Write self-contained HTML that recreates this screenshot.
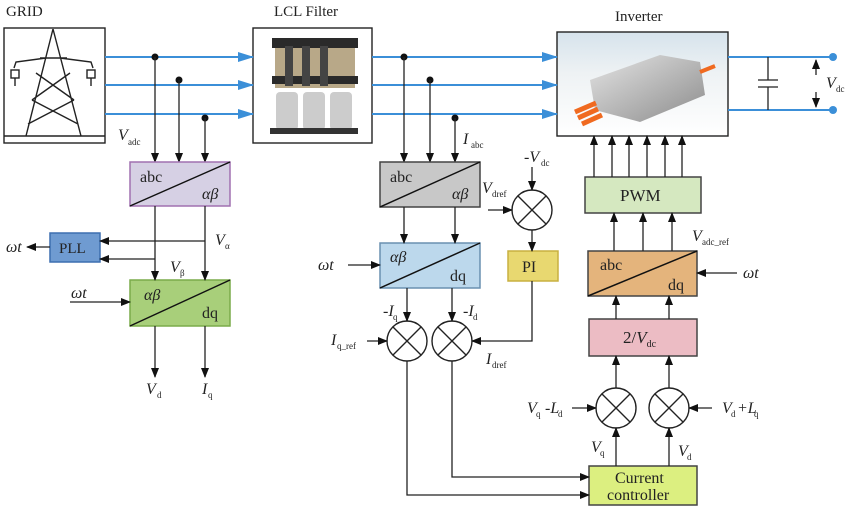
<!DOCTYPE html>
<html><head><meta charset="utf-8"><style>
html,body{margin:0;padding:0;background:#fff;}
svg{display:block;font-family:"Liberation Serif",serif;}
</style></head><body>
<svg width="851" height="506" viewBox="0 0 851 506" xmlns="http://www.w3.org/2000/svg">
<defs>
<marker id="a" markerWidth="10" markerHeight="8" refX="9" refY="4" orient="auto" markerUnits="userSpaceOnUse"><path d="M0,0 L10,4 L0,8 Z" fill="#111"/></marker>
<marker id="b" markerWidth="16" markerHeight="10" refX="15" refY="5" orient="auto" markerUnits="userSpaceOnUse"><path d="M0,0 L16,5 L0,10 Z" fill="#3b8fd8"/></marker>
<linearGradient id="ig" x1="0" y1="0" x2="0" y2="1"><stop offset="0" stop-color="#d6e3ec"/><stop offset="0.4" stop-color="#eef2f4"/><stop offset="1" stop-color="#fff"/></linearGradient>
<linearGradient id="box" x1="0" y1="0" x2="1" y2="1"><stop offset="0" stop-color="#e4e4e4"/><stop offset="1" stop-color="#8c8c8c"/></linearGradient>
</defs>
<g stroke="#222" stroke-width="1.4" fill="none">
<rect x="4" y="28" width="101" height="115" fill="#fff"/>
<line x1="4" y1="136" x2="105" y2="136"/>
<path d="M53,29 L26,136 M53,29 L81,136 M46,58 L16,62 L14,68 M60,58 L91,62 L93,68 M40,58 L67,58 M36,73 L74,100 M70,73 L32,100 M32,100 L78,124 M74,100 L28,124"/>
<rect x="11" y="70" width="8" height="8"/><rect x="87" y="70" width="8" height="8"/>
<path d="M15,78 V86 M91,78 V86"/>
<rect x="253" y="28" width="119" height="115" fill="#fff"/>
<rect x="557" y="32" width="171" height="104" fill="url(#ig)"/>
</g>
<g stroke="none">
<rect x="272" y="38" width="86" height="10" fill="#2a2a2a"/>
<rect x="275" y="48" width="80" height="40" fill="#b8a888"/>
<rect x="272" y="76" width="86" height="8" fill="#2a2a2a"/>
<rect x="285" y="46" width="8" height="40" fill="#444"/><rect x="302" y="46" width="8" height="40" fill="#444"/><rect x="320" y="46" width="8" height="40" fill="#444"/>
<rect x="276" y="92" width="22" height="38" fill="#ccc" rx="4"/><rect x="303" y="92" width="22" height="38" fill="#ccc" rx="4"/><rect x="330" y="92" width="22" height="38" fill="#ccc" rx="4"/>
<rect x="270" y="128" width="88" height="6" fill="#333"/>
<path d="M590,80 L660,55 L700,62 L705,95 L640,122 L595,110 Z" fill="url(#box)"/>
<path d="M575,112 L596,103 M578,118 L598,109 M582,124 L602,115" stroke="#f06a20" stroke-width="5"/>
<path d="M700,72 L715,66" stroke="#f06a20" stroke-width="4"/>
</g>
<g stroke="#3b8fd8" stroke-width="2" fill="none">
<line x1="105" y1="57" x2="253" y2="57" marker-end="url(#b)"/>
<line x1="105" y1="85" x2="253" y2="85" marker-end="url(#b)"/>
<line x1="105" y1="114" x2="253" y2="114" marker-end="url(#b)"/>
<line x1="372" y1="57" x2="557" y2="57" marker-end="url(#b)"/>
<line x1="372" y1="85" x2="557" y2="85" marker-end="url(#b)"/>
<line x1="372" y1="114" x2="557" y2="114" marker-end="url(#b)"/>
<line x1="728" y1="57" x2="833" y2="57"/>
<line x1="728" y1="110" x2="833" y2="110"/>
</g>
<g fill="#3b8fd8"><circle cx="833" cy="57" r="4"/><circle cx="833" cy="110" r="4"/></g>
<g stroke="#222" stroke-width="1.3" fill="none">
<path d="M768,57 V80 M768,87 V110 M758,80 H778 M758,87 H778"/>
<line x1="816" y1="75" x2="816" y2="60" marker-end="url(#a)"/>
<line x1="816" y1="92" x2="816" y2="107" marker-end="url(#a)"/>
</g>
<g fill="#111"><circle cx="155" cy="57" r="3.5"/><circle cx="179" cy="80" r="3.5"/><circle cx="205" cy="118" r="3.5"/>
<circle cx="404" cy="57" r="3.5"/><circle cx="430" cy="80" r="3.5"/><circle cx="455" cy="118" r="3.5"/></g>
<g stroke="#222" stroke-width="1.3" fill="none" marker-end="url(#a)">
<line x1="155" y1="57" x2="155" y2="162"/><line x1="179" y1="80" x2="179" y2="162"/><line x1="205" y1="118" x2="205" y2="162"/>
<line x1="404" y1="57" x2="404" y2="162"/><line x1="430" y1="80" x2="430" y2="162"/><line x1="455" y1="118" x2="455" y2="162"/>
</g>
<g stroke-width="1.5">
<rect x="130" y="162" width="100" height="44" fill="#d6d0e4" stroke="#a070b0"/>
<rect x="130" y="280" width="100" height="46" fill="#a8cf7a" stroke="#7aab4a"/>
<rect x="50" y="233" width="50" height="29" fill="#6f9bd1" stroke="#3d6fb0"/>
<rect x="380" y="162" width="100" height="45" fill="#c8c8c8" stroke="#444"/>
<rect x="380" y="243" width="100" height="45" fill="#bcd8ec" stroke="#6a90b0"/>
<rect x="508" y="251" width="50" height="30" fill="#e8d870" stroke="#c8b040"/>
<rect x="585" y="177" width="116" height="36" fill="#d5e8c0" stroke="#444"/>
<rect x="588" y="251" width="109" height="45" fill="#e4b47c" stroke="#444"/>
<rect x="589" y="319" width="108" height="37" fill="#ecbcc4" stroke="#444"/>
<rect x="589" y="466" width="108" height="39" fill="#dcef80" stroke="#444"/>
</g>
<g stroke="#111" stroke-width="1.5">
<line x1="130" y1="206" x2="230" y2="162"/><line x1="130" y1="326" x2="230" y2="280"/>
<line x1="380" y1="207" x2="480" y2="162"/><line x1="380" y1="288" x2="480" y2="243"/>
<line x1="588" y1="296" x2="697" y2="251"/>
</g>
<g stroke="#222" stroke-width="1.4" fill="#fff">
<circle cx="532" cy="210" r="20"/><circle cx="407" cy="341" r="20"/><circle cx="452" cy="341" r="20"/>
<circle cx="616" cy="408" r="20"/><circle cx="669" cy="408" r="20"/>
</g>
<g stroke="#222" stroke-width="1.4">
<path d="M518,196 l28,28 M546,196 l-28,28"/>
<path d="M393,327 l28,28 M421,327 l-28,28"/>
<path d="M438,327 l28,28 M466,327 l-28,28"/>
<path d="M602,394 l28,28 M630,394 l-28,28"/>
<path d="M655,394 l28,28 M683,394 l-28,28"/>
</g>
<g stroke="#222" stroke-width="1.3" fill="none" marker-end="url(#a)">
<line x1="155" y1="206" x2="155" y2="280"/><line x1="205" y1="206" x2="205" y2="280"/>
<polyline points="205,241 100,241"/><polyline points="155,259 100,259"/>
<line x1="50" y1="247" x2="27" y2="247"/>
<line x1="70" y1="302" x2="130" y2="302"/>
<line x1="155" y1="326" x2="155" y2="377"/><line x1="205" y1="326" x2="205" y2="377"/>
<line x1="404" y1="207" x2="404" y2="243"/><line x1="455" y1="207" x2="455" y2="243"/>
<line x1="348" y1="265" x2="380" y2="265"/>
<line x1="407" y1="288" x2="407" y2="321"/><line x1="452" y1="288" x2="452" y2="321"/>
<line x1="367" y1="341" x2="387" y2="341"/>
<polyline points="532,281 532,341 472,341"/>
<line x1="532" y1="167" x2="532" y2="190"/>
<line x1="488" y1="210" x2="512" y2="210"/>
<line x1="532" y1="230" x2="532" y2="251"/>
<polyline points="407,361 407,495 589,495"/>
<polyline points="452,361 452,477 589,477"/>
<line x1="616" y1="466" x2="616" y2="428"/><line x1="669" y1="466" x2="669" y2="428"/>
<line x1="572" y1="408" x2="596" y2="408"/><line x1="712" y1="408" x2="689" y2="408"/>
<line x1="616" y1="388" x2="616" y2="356"/><line x1="669" y1="388" x2="669" y2="356"/>
<line x1="616" y1="319" x2="616" y2="296"/><line x1="669" y1="319" x2="669" y2="296"/>
<line x1="737" y1="273" x2="697" y2="273"/>
<line x1="614" y1="251" x2="614" y2="213"/><line x1="643" y1="251" x2="643" y2="213"/><line x1="672" y1="251" x2="672" y2="213"/>
<line x1="594" y1="177" x2="594" y2="136"/><line x1="612" y1="177" x2="612" y2="136"/><line x1="629" y1="177" x2="629" y2="136"/>
<line x1="647" y1="177" x2="647" y2="136"/><line x1="665" y1="177" x2="665" y2="136"/><line x1="682" y1="177" x2="682" y2="136"/>
</g>
<g fill="#222" font-size="16">
<text x="6" y="16" font-size="15">GRID</text>
<text x="274" y="16" font-size="15">LCL Filter</text>
<text x="615" y="21" font-size="15">Inverter</text>
<text x="140" y="182">abc</text><text x="202" y="199" font-style="italic">αβ</text>
<text x="144" y="300" font-style="italic">αβ</text><text x="202" y="318">dq</text>
<text x="390" y="182">abc</text><text x="452" y="199" font-style="italic">αβ</text>
<text x="390" y="262" font-style="italic">αβ</text><text x="450" y="281">dq</text>
<text x="600" y="270">abc</text><text x="668" y="290">dq</text>
<text x="59" y="253" font-size="15">PLL</text>
<text x="522" y="272">PI</text>
<text x="620" y="201" font-size="17">PWM</text>
<text x="623" y="343" font-size="17">2/<tspan font-style="italic">V</tspan><tspan font-size="10" dy="4">dc</tspan></text>
<text x="615" y="483">Current</text><text x="607" y="500">controller</text>
<g font-style="italic">
<text x="118" y="140">V</text><text x="6" y="252">ωt</text><text x="71" y="298">ωt</text>
<text x="215" y="245">V</text><text x="170" y="272">V</text>
<text x="146" y="394">V</text><text x="202" y="394">I</text>
<text x="463" y="144">I</text><text x="524" y="162">-V</text><text x="482" y="193">V</text>
<text x="318" y="270">ωt</text><text x="743" y="278">ωt</text>
<text x="383" y="316">-I</text><text x="463" y="316">-I</text>
<text x="331" y="345">I</text><text x="486" y="364">I</text>
<text x="527" y="413">V</text><text x="545" y="413">-L</text>
<text x="722" y="413">V</text><text x="737" y="413">+L</text>
<text x="591" y="452">V</text><text x="678" y="456">V</text>
<text x="692" y="241">V</text><text x="826" y="88">V</text>
</g>
<g font-size="9">
<text x="128" y="145">adc</text><text x="225" y="249">α</text><text x="180" y="276">β</text>
<text x="157" y="398">d</text><text x="208" y="398">q</text>
<text x="471" y="148">abc</text><text x="541" y="166">dc</text><text x="492" y="197">dref</text>
<text x="393" y="320">q</text><text x="473" y="320">d</text>
<text x="337" y="349">q_ref</text><text x="492" y="368">dref</text>
<text x="536" y="417">q</text><text x="558" y="417">d</text>
<text x="731" y="417">d</text><text x="754" y="417">q</text>
<text x="600" y="456">q</text><text x="687" y="460">d</text>
<text x="702" y="245">adc_ref</text><text x="836" y="92">dc</text>
</g>
</g>
</svg>
</body></html>
